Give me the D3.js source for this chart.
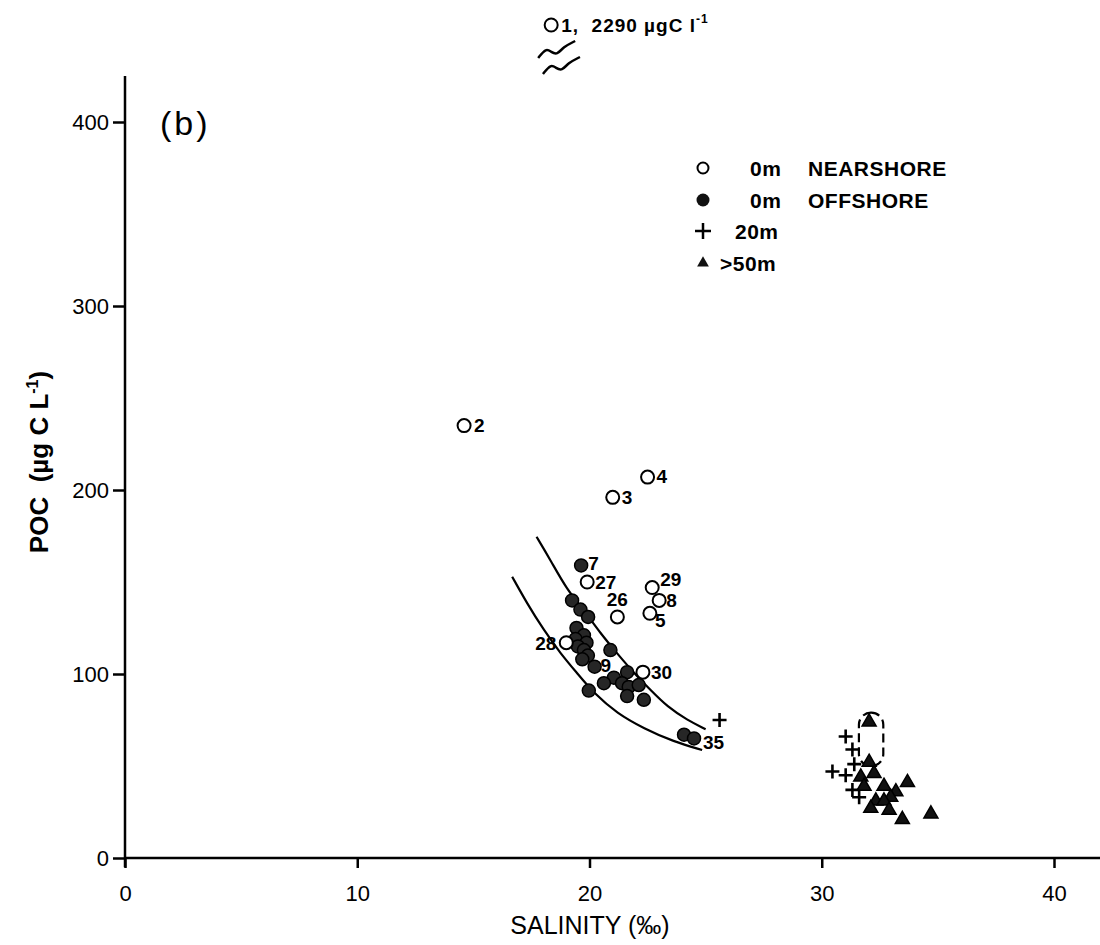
<!DOCTYPE html>
<html>
<head>
<meta charset="utf-8">
<script src="https://cdn.jsdelivr.net/npm/d3@7"></script>
<style>
body { margin: 0; background: #fff; }
svg { font-family: "Liberation Sans", Arial, sans-serif; }
.axis path, .axis line { stroke: #000; stroke-width: 2.5; }
.axis text { font-size: 22px; fill: #000; }
.lbl { font-size: 19px; font-weight: bold; fill: #000; }
.leg { font-size: 21px; font-weight: bold; letter-spacing: 0.5px; fill: #000; }
</style>
</head>
<body>
<div class="graphic"></div>
<script>
var width = 1100;
var height = 945;

// 0 m nearshore stations (salinity, POC, station no.)
var nearSal = [14.6, 21.0, 22.5, 19.9, 21.2, 22.7, 23.0, 22.6, 19.0, 22.3];
var nearPoc = [235, 196, 207, 150, 131, 147, 140, 133, 117, 101];
var nearId  = ["2", "3", "4", "27", "26", "29", "8", "5", "28", "30"];

// station 1, off scale
var offScaleSal = 18.35;
var offScalePoc = 2290;

// 0 m offshore stations
var offSal = [19.64, 19.25, 19.61, 19.94, 19.44, 19.76, 19.40, 19.87, 19.50, 19.76, 19.93, 19.69,
              20.9, 20.22, 21.62, 21.05, 20.62, 19.97, 21.4, 21.69, 22.12, 21.62, 22.34, 24.07, 24.5];
var offPoc = [159, 140, 135, 131, 125, 121, 119, 117, 115, 113, 110, 108,
              113, 104, 101, 98, 95, 91, 95, 93, 94, 88, 86, 67, 65];
var offId  = ["7", "", "", "", "", "", "", "", "", "", "", "",
              "", "9", "", "", "", "", "", "", "", "", "", "", "35"];

// 20 m
var m20Sal = [25.6, 31.03, 31.32, 31.4, 30.46, 31.03, 31.32, 31.61];
var m20Poc = [75, 66, 59, 51, 47, 45, 37, 33];

// >50 m
var m50Sal = [32.04, 32.04, 32.25, 31.68, 33.69, 31.82, 32.68, 33.19, 32.97, 32.33, 32.68, 32.11, 32.9, 33.47, 34.7];
var m50Poc = [74, 52, 46, 44, 41, 39, 39, 36, 33, 31, 31, 27, 26, 21, 24];

// envelope curves
var upperSal = [17.72, 18.32, 19.04, 19.75, 20.47, 21.19, 21.92, 22.63, 23.35, 24.21, 25.0];
var upperPoc = [174.6, 161.9, 145.6, 134.8, 122.1, 111.2, 100.4, 91.3, 82.2, 75.0, 70.0];
var lowerSal = [16.67, 17.31, 18.03, 18.75, 19.47, 20.19, 21.19, 22.34, 23.63, 24.85];
var lowerPoc = [152.9, 138.4, 123.9, 111.2, 100.4, 89.5, 78.6, 70.4, 63.2, 58.7];

var xTicks = [0, 10, 20, 30, 40];
var yTicks = [0, 100, 200, 300, 400];

// label offsets per station
var labelPos = {
	"2": [10, 0, "start"], "3": [9, 0, "start"], "4": [9, -1, "start"],
	"27": [8, 0, "start"], "26": [0, -18, "middle"], "29": [8, -8, "start"],
	"8": [7, 0, "start"], "5": [5, 7, "start"], "28": [-10, 0, "end"],
	"30": [8, 0, "start"], "7": [7, -2, "start"], "9": [6, -1, "start"],
	"35": [9, 4, "start"]
};

var svg = d3.select("div.graphic").append("svg")
	.attr("width", width)
	.attr("height", height);

var x = d3.scaleLinear().domain([0, 40]).range([125, 1054]);
var y = d3.scaleLinear().domain([0, 400]).range([858, 122]);

// axes
var xAxis = svg.append("g").attr("class", "axis")
	.attr("transform", "translate(0," + y(0) + ")")
	.call(d3.axisBottom(x).tickValues(xTicks).tickSize(10).tickPadding(17));
xAxis.select(".domain").remove();
xAxis.append("line").attr("x1", x(0)).attr("x2", width).attr("y1", 0).attr("y2", 0);

var yAxis = svg.append("g").attr("class", "axis")
	.attr("transform", "translate(" + x(0) + ",0)")
	.call(d3.axisLeft(y).tickValues(yTicks).tickSize(12).tickPadding(4));
yAxis.select(".domain").remove();
yAxis.append("line").attr("x1", 0).attr("x2", 0).attr("y1", y(-5)).attr("y2", y(425));
yAxis.selectAll("text").attr("dy", "0.35em");

svg.append("text")
	.attr("x", 590)
	.attr("y", 934)
	.attr("text-anchor", "middle")
	.style("font-size", "25px")
	.text("SALINITY (‰)");

svg.append("text")
	.attr("transform", "translate(48," + 462 + ") rotate(-90)")
	.attr("text-anchor", "middle")
	.style("font-size", "26px")
	.style("font-weight", "bold")
	.html("POC&#160;&#160;(µg C L<tspan dy='-10' font-size='16'>-1</tspan><tspan dy='10'>)</tspan>");

svg.append("text")
	.attr("x", 160)
	.attr("y", 135)
	.style("font-size", "34px")
	.style("letter-spacing", "3px")
	.text("(b)");

// envelope curves
var curve = d3.line()
	.x(function (d) { return x(d[0]); })
	.y(function (d) { return y(d[1]); })
	.curve(d3.curveBasis);

[[upperSal, upperPoc], [lowerSal, lowerPoc]].forEach(function (c) {
	svg.append("path")
		.attr("d", curve(d3.zip(c[0], c[1])))
		.attr("fill", "none")
		.attr("stroke", "#000")
		.attr("stroke-width", 2.2);
});

// dashed outline round the deep samples
svg.append("rect")
	.attr("x", x(31.6))
	.attr("y", y(79))
	.attr("width", x(32.65) - x(31.6))
	.attr("height", y(50) - y(79))
	.attr("rx", 12)
	.attr("fill", "none")
	.attr("stroke", "#000")
	.attr("stroke-width", 2.2)
	.attr("stroke-dasharray", "9,5");

var r = 6.5;

// offshore filled
svg.append("g").selectAll("circle")
	.data(d3.zip(offSal, offPoc))
	.enter()
	.append("circle")
	.attr("cx", function (d) { return x(d[0]); })
	.attr("cy", function (d) { return y(d[1]); })
	.attr("r", r)
	.attr("fill", "#262626")
	.attr("stroke", "#000")
	.attr("stroke-width", 1.5);

// nearshore open
svg.append("g").selectAll("circle")
	.data(d3.zip(nearSal, nearPoc))
	.enter()
	.append("circle")
	.attr("cx", function (d) { return x(d[0]); })
	.attr("cy", function (d) { return y(d[1]); })
	.attr("r", r)
	.attr("fill", "#fff")
	.attr("stroke", "#000")
	.attr("stroke-width", 2);

// 20 m crosses
svg.append("g").selectAll("path")
	.data(d3.zip(m20Sal, m20Poc))
	.enter()
	.append("path")
	.attr("transform", function (d) { return "translate(" + x(d[0]) + "," + y(d[1]) + ")"; })
	.attr("d", "M-7,0H7M0,-7V7")
	.attr("stroke", "#000")
	.attr("stroke-width", 2.6);

// >50 m triangles
var tri = d3.symbol().type(d3.symbolTriangle).size(85);
svg.append("g").selectAll("path")
	.data(d3.zip(m50Sal, m50Poc))
	.enter()
	.append("path")
	.attr("transform", function (d) { return "translate(" + x(d[0]) + "," + y(d[1]) + ")"; })
	.attr("d", tri)
	.attr("fill", "#111")
	.attr("stroke", "#000")
	.attr("stroke-width", 1.5);

// station labels
var labelled = d3.zip(nearSal, nearPoc, nearId).concat(d3.zip(offSal, offPoc, offId))
	.filter(function (d) { return d[2] !== ""; });
svg.append("g").selectAll("text")
	.data(labelled)
	.enter()
	.append("text")
	.attr("class", "lbl")
	.attr("x", function (d) { return x(d[0]) + labelPos[d[2]][0]; })
	.attr("y", function (d) { return y(d[1]) + labelPos[d[2]][1]; })
	.attr("dy", "0.36em")
	.attr("text-anchor", function (d) { return labelPos[d[2]][2]; })
	.text(function (d) { return d[2]; });

// station 1, off the scale
var x1 = x(offScaleSal);
svg.append("circle")
	.attr("cx", x1).attr("cy", 25).attr("r", 6.5)
	.attr("fill", "#fff").attr("stroke", "#000").attr("stroke-width", 2);
svg.append("text")
	.attr("class", "lbl")
	.attr("x", x1 + 10).attr("y", 32)
	.style("font-size", "19px")
	.style("letter-spacing", "1px")
	.html("1,&#160;&#160;" + offScalePoc + " µgC&#160;l<tspan dy='-9' font-size='12'>-1</tspan>");

// break marks
var wave = d3.line().curve(d3.curveBasis);
[0, 16].forEach(function (o) {
	svg.append("path")
		.attr("d", wave([[x1 - 13 + o * 0.3, 58 + o], [x1 - 5 + o * 0.3, 48 + o], [x1 + o * 0.3, 52 + o],
			[x1 + 6 + o * 0.3, 55 + o], [x1 + 12 + o * 0.3, 47 + o], [x1 + 24 + o * 0.3, 41 + o]]))
		.attr("fill", "none")
		.attr("stroke", "#000")
		.attr("stroke-width", 2.5);
});

// legend
var legRows = [
	{ sym: "open", label: ["0m", "NEARSHORE"] },
	{ sym: "filled", label: ["0m", "OFFSHORE"] },
	{ sym: "cross", label: ["20m"] },
	{ sym: "tri", label: [">50m"] }
];
var legY = [168, 200, 231, 263];
var leg = svg.append("g");
legRows.forEach(function (row, i) {
	var g = leg.append("g").attr("transform", "translate(703," + legY[i] + ")");
	if (row.sym === "open") {
		g.append("circle").attr("r", 5.5).attr("fill", "#fff").attr("stroke", "#000").attr("stroke-width", 2);
	} else if (row.sym === "filled") {
		g.append("circle").attr("r", 6.5).attr("fill", "#111");
	} else if (row.sym === "cross") {
		g.append("path").attr("d", "M-8,0H8M0,-8V8").attr("stroke", "#000").attr("stroke-width", 2.5);
	} else {
		g.append("path").attr("d", d3.symbol().type(d3.symbolTriangle).size(60)).attr("fill", "#111");
	}
	if (row.label.length === 2) {
		g.append("text").attr("class", "leg").attr("x", 47).attr("dy", "0.36em").text(row.label[0]);
		g.append("text").attr("class", "leg").attr("x", 105).attr("dy", "0.36em").text(row.label[1]);
	} else if (row.sym === "cross") {
		g.append("text").attr("class", "leg").attr("x", 32).attr("dy", "0.36em").text(row.label[0]);
	} else {
		g.append("text").attr("class", "leg").attr("x", 17).attr("dy", "0.36em").text(row.label[0]);
	}
});
</script>
</body>
</html>
